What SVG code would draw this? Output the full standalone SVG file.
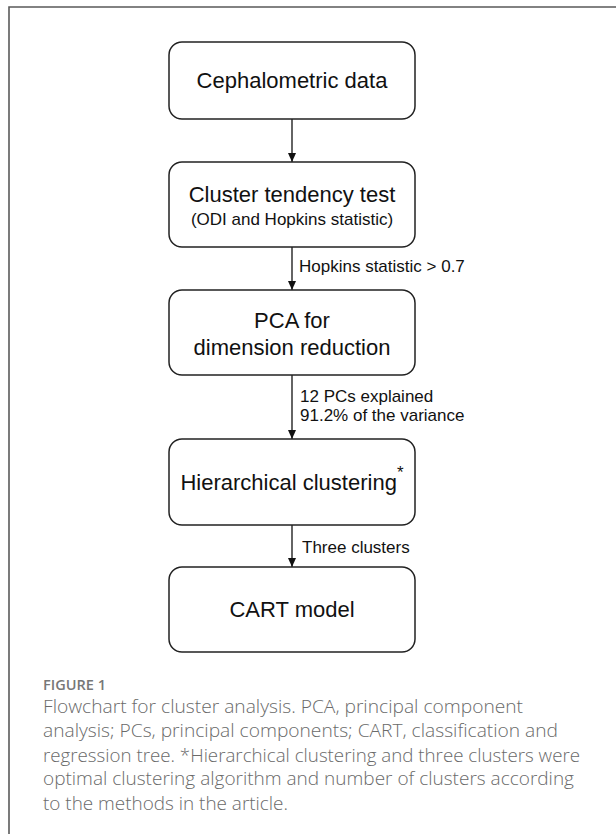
<svg xmlns="http://www.w3.org/2000/svg" width="616" height="834" viewBox="0 0 616 834">
<defs>
<marker id="ah" markerWidth="9" markerHeight="8" refX="9" refY="4" orient="auto" markerUnits="userSpaceOnUse" viewBox="0 0 9 8">
<path d="M0,0 L9,4 L0,8 Z" fill="#111"/>
</marker>
<style>
.box{fill:#fff;stroke:#222;stroke-width:1.5}
.t{font-family:"Liberation Sans",Arial,sans-serif;fill:#111;text-anchor:middle}
.big{font-size:22px}
.sm{font-size:17px}
.lbl{font-family:"Liberation Sans",Arial,sans-serif;font-size:17px;fill:#111}
.conn line{stroke:#111;stroke-width:1.3}
.cap{font-family:"Open Sans","Noto Sans",sans-serif;font-size:18.5px;fill:#6a6a6a;font-weight:300}
.fig{font-family:"Open Sans","Noto Sans",sans-serif;font-size:14.5px;fill:#777;font-weight:600}
</style>
</defs>
<rect width="616" height="834" fill="#fff"/>
<path d="M9,834 V7 H616" fill="none" stroke="#5a5a5a" stroke-width="1.6"/>

<g id="conn" class="conn">
<line x1="292" y1="119" x2="292" y2="162" marker-end="url(#ah)"/>
<line x1="292" y1="247" x2="292" y2="290" marker-end="url(#ah)"/>
<line x1="292" y1="375" x2="292" y2="439" marker-end="url(#ah)"/>
<line x1="292" y1="525" x2="292" y2="567" marker-end="url(#ah)"/>
<text class="lbl" x="299" y="272">Hopkins statistic &gt; 0.7</text>
<text class="lbl" x="300" y="402">12 PCs explained</text>
<text class="lbl" x="300" y="421">91.2% of the variance</text>
<text class="lbl" x="302" y="553">Three clusters</text>
</g>

<g id="n1">
<rect class="box" x="169" y="42" width="246" height="77" rx="13"/>
<text class="t big" x="292" y="88">Cephalometric data</text>
</g>
<g id="n2">
<rect class="box" x="169" y="162" width="246" height="85" rx="13"/>
<text class="t big" x="292" y="202">Cluster tendency test</text>
<text class="t sm" x="292" y="225">(ODI and Hopkins statistic)</text>
</g>
<g id="n3">
<rect class="box" x="169" y="290" width="246" height="85" rx="13"/>
<text class="t big" x="292" y="328">PCA for</text>
<text class="t big" x="292" y="355">dimension reduction</text>
</g>
<g id="n4">
<rect class="box" x="169" y="439" width="246" height="86" rx="13"/>
<text class="t big" x="292" y="490">Hierarchical clustering<tspan font-size="17px" dy="-12">*</tspan></text>
</g>
<g id="n5">
<rect class="box" x="169" y="567" width="246" height="85" rx="13"/>
<text class="t big" x="292" y="617">CART model</text>
</g>

<g id="caption">
<text class="fig" x="43" y="690" textLength="63" lengthAdjust="spacingAndGlyphs">FIGURE 1</text>
<text class="cap" x="43" y="713" textLength="480" lengthAdjust="spacingAndGlyphs">Flowchart for cluster analysis. PCA, principal component</text>
<text class="cap" x="43" y="737" textLength="515" lengthAdjust="spacingAndGlyphs">analysis; PCs, principal components; CART, classification and</text>
<text class="cap" x="43" y="762" textLength="537" lengthAdjust="spacingAndGlyphs">regression tree. *Hierarchical clustering and three clusters were</text>
<text class="cap" x="43" y="785" textLength="531" lengthAdjust="spacingAndGlyphs">optimal clustering algorithm and number of clusters according</text>
<text class="cap" x="43" y="810" textLength="245" lengthAdjust="spacingAndGlyphs">to the methods in the article.</text>
</g>
</svg>
